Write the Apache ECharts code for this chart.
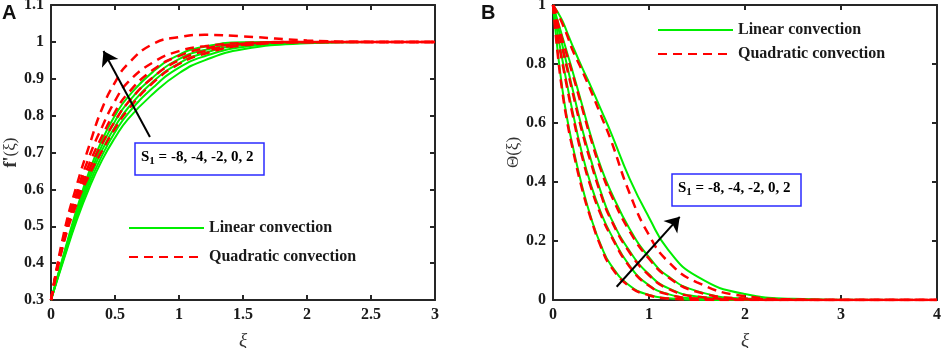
<!DOCTYPE html>
<html>
<head>
<meta charset="utf-8">
<script src="https://cdn.jsdelivr.net/npm/echarts@6/dist/echarts.min.js"></script>
<style>
  html, body { margin: 0; padding: 0; background: #fff; }
  #chart { width: 941px; height: 348px; }
</style>
</head>
<body>
<div id="chart"></div>
<script>
  // panel A: f'(xi), S1 = -8, -4, -2, 0, 2
  var xiA = [0, 0.1, 0.2, 0.3, 0.4, 0.5, 0.6, 0.8, 1.0, 1.2, 1.5, 2.0, 2.5, 3.0];
  var linA_m8 = [0.3, 0.41, 0.515, 0.605, 0.68, 0.74, 0.79, 0.86, 0.915, 0.95, 0.98, 0.996, 1.0, 1.0];
  var linA_m4 = [0.3, 0.414, 0.522, 0.616, 0.693, 0.755, 0.805, 0.877, 0.93, 0.961, 0.986, 0.998, 1.0, 1.0];
  var linA_m2 = [0.3, 0.418, 0.53, 0.627, 0.707, 0.77, 0.82, 0.893, 0.942, 0.97, 0.991, 0.999, 1.0, 1.0];
  var linA_0 = [0.3, 0.422, 0.538, 0.638, 0.72, 0.785, 0.835, 0.905, 0.953, 0.978, 0.995, 1.0, 1.0, 1.0];
  var linA_2 = [0.3, 0.425, 0.545, 0.65, 0.735, 0.8, 0.85, 0.92, 0.965, 0.987, 0.999, 1.0, 1.0, 1.0];
  var quaA_m8 = [0.3, 0.455, 0.56, 0.64, 0.705, 0.765, 0.815, 0.89, 0.94, 0.968, 0.99, 0.999, 1.0, 1.0];
  var quaA_m4 = [0.3, 0.46, 0.57, 0.655, 0.725, 0.785, 0.835, 0.905, 0.95, 0.975, 0.992, 0.999, 1.0, 1.0];
  var quaA_m2 = [0.3, 0.465, 0.58, 0.67, 0.745, 0.81, 0.86, 0.925, 0.962, 0.982, 0.995, 1.0, 1.0, 1.0];
  var quaA_0 = [0.3, 0.47, 0.59, 0.69, 0.77, 0.84, 0.89, 0.945, 0.975, 0.988, 0.997, 1.0, 1.0, 1.0];
  var quaA_2 = [0.3, 0.48, 0.61, 0.72, 0.82, 0.89, 0.94, 0.995, 1.013, 1.019, 1.015, 1.004, 1.0, 1.0];

  // panel B: Theta(xi)
  var xiB = [0, 0.05, 0.1, 0.15, 0.2, 0.3, 0.4, 0.5, 0.6, 0.8, 1.0, 1.2, 1.5, 2.0, 2.5, 3.0, 4.0];
  var linB_m8 = [1, 0.84, 0.71, 0.61, 0.53, 0.39, 0.275, 0.185, 0.12, 0.048, 0.017, 0.006, 0.001, 0, 0, 0, 0];
  var linB_m4 = [1, 0.9, 0.81, 0.725, 0.645, 0.5, 0.385, 0.295, 0.225, 0.115, 0.05, 0.02, 0.005, 0.001, 0, 0, 0];
  var linB_m2 = [1, 0.93, 0.86, 0.79, 0.72, 0.585, 0.47, 0.365, 0.28, 0.165, 0.087, 0.04, 0.012, 0.002, 0, 0, 0];
  var linB_0 = [1, 0.945, 0.89, 0.835, 0.78, 0.665, 0.55, 0.45, 0.37, 0.24, 0.145, 0.08, 0.03, 0.005, 0.001, 0, 0];
  var linB_2 = [1, 0.975, 0.945, 0.905, 0.865, 0.79, 0.72, 0.645, 0.57, 0.41, 0.28, 0.17, 0.08, 0.02, 0.004, 0.001, 0];
  var quaB_m8 = [1, 0.83, 0.7, 0.6, 0.52, 0.38, 0.27, 0.18, 0.115, 0.045, 0.016, 0.005, 0.001, 0, 0, 0, 0];
  var quaB_m4 = [1, 0.89, 0.8, 0.715, 0.635, 0.49, 0.377, 0.288, 0.22, 0.112, 0.048, 0.019, 0.005, 0.001, 0, 0, 0];
  var quaB_m2 = [1, 0.925, 0.85, 0.78, 0.71, 0.575, 0.46, 0.357, 0.275, 0.16, 0.084, 0.038, 0.011, 0.002, 0, 0, 0];
  var quaB_0 = [1, 0.94, 0.88, 0.825, 0.77, 0.655, 0.54, 0.44, 0.36, 0.232, 0.14, 0.077, 0.028, 0.005, 0.001, 0, 0];
  var quaB_2 = [1, 0.97, 0.935, 0.895, 0.85, 0.78, 0.705, 0.625, 0.545, 0.36, 0.22, 0.13, 0.06, 0.013, 0.002, 0, 0];

  var LIN = 'Linear convection';
  var QUA = 'Quadratic convection';
  var serif = 'Liberation Serif';
  var frame = '#262626';
  var green = '#00ee00';
  var red = '#ff0000';

  function pairs(xs, ys) {
    return xs.map(function (x, i) { return [x, ys[i]]; });
  }

  function curve(name, xs, ys, panel, dashed) {
    return {
      name: name,
      type: 'line',
      xAxisIndex: panel * 2,
      yAxisIndex: panel * 2,
      data: pairs(xs, ys),
      smooth: 0.5,
      symbol: 'none',
      z: dashed ? 3 : 2,
      itemStyle: { color: dashed ? red : green },
      lineStyle: dashed
        ? { color: red, width: 2.5, type: [9, 6] }
        : { color: green, width: 2 }
    };
  }

  function valueAxis(grid, pos, min, max, step, labels, name, nameGap, nameStyle) {
    return {
      type: 'value',
      gridIndex: grid,
      position: pos,
      min: min,
      max: max,
      interval: step,
      name: name || '',
      nameLocation: 'middle',
      nameGap: nameGap || 0,
      nameTextStyle: nameStyle || {},
      axisLine: { show: true, onZero: false, lineStyle: { color: frame, width: 2 } },
      axisTick: { show: true, inside: true, length: 5, lineStyle: { color: frame, width: 2 } },
      splitLine: { show: false },
      axisLabel: {
        show: labels,
        color: '#1a1a1a',
        fontFamily: serif,
        fontWeight: 'bold',
        fontSize: 16,
        margin: 7
      }
    };
  }

  var xiName = { fontFamily: serif, fontStyle: 'italic', fontSize: 19, color: '#333' };

  var chart = echarts.init(document.getElementById('chart'));

  var series = [
    curve(LIN, xiA, linA_m8, 0, false),
    curve(LIN, xiA, linA_m4, 0, false),
    curve(LIN, xiA, linA_m2, 0, false),
    curve(LIN, xiA, linA_0, 0, false),
    curve(LIN, xiA, linA_2, 0, false),
    curve(QUA, xiA, quaA_m8, 0, true),
    curve(QUA, xiA, quaA_m4, 0, true),
    curve(QUA, xiA, quaA_m2, 0, true),
    curve(QUA, xiA, quaA_0, 0, true),
    curve(QUA, xiA, quaA_2, 0, true),
    curve(LIN, xiB, linB_m8, 1, false),
    curve(LIN, xiB, linB_m4, 1, false),
    curve(LIN, xiB, linB_m2, 1, false),
    curve(LIN, xiB, linB_0, 1, false),
    curve(LIN, xiB, linB_2, 1, false),
    curve(QUA, xiB, quaB_m8, 1, true),
    curve(QUA, xiB, quaB_m4, 1, true),
    curve(QUA, xiB, quaB_m2, 1, true),
    curve(QUA, xiB, quaB_0, 1, true),
    curve(QUA, xiB, quaB_2, 1, true)
  ];

  // arrows showing the direction of increasing S1
  function arrow(from, to) {
    return {
      silent: true,
      symbol: ['none', 'arrow'],
      symbolSize: 14,
      label: { show: false },
      emphasis: { disabled: true },
      lineStyle: { color: '#000', width: 2, type: 'solid', opacity: 1 },
      itemStyle: { color: '#000' },
      data: [[{ coord: from }, { coord: to }]]
    };
  }
  series[9].markLine = arrow([0.773, 0.742], [0.41, 0.975]);
  series[19].markLine = arrow([0.663, 0.045], [1.32, 0.282]);

  var legendText = { fontFamily: serif, fontWeight: 'bold', fontSize: 16, color: '#1a1a1a' };
  var boxRich = {
    s: { fontFamily: serif, fontWeight: 'bold', fontSize: 15, color: '#0000ff' },
    sub: { fontFamily: serif, fontWeight: 'bold', fontSize: 11, color: '#0000ff', padding: [9, 0, 0, 0] }
  };

  function legend(left, top, gap) {
    return {
      data: [LIN, QUA],
      orient: 'vertical',
      left: left,
      top: top,
      padding: 0,
      itemWidth: 75,
      itemHeight: 14,
      itemGap: gap,
      selectedMode: false,
      itemStyle: { opacity: 0 },
      textStyle: legendText
    };
  }

  chart.setOption({
    animation: false,
    backgroundColor: '#fff',
    grid: [
      { left: 51, top: 5, width: 384, height: 295, containLabel: false, outerBoundsMode: 'none' },
      { left: 553, top: 5, width: 384, height: 295, containLabel: false, outerBoundsMode: 'none' }
    ],
    xAxis: [
      valueAxis(0, 'bottom', 0, 3, 0.5, true, 'ξ', 31, xiName),
      valueAxis(0, 'top', 0, 3, 0.5, false),
      valueAxis(1, 'bottom', 0, 4, 1, true, 'ξ', 31, xiName),
      valueAxis(1, 'top', 0, 4, 1, false)
    ],
    yAxis: [
      valueAxis(0, 'left', 0.3, 1.1, 0.1, true, "{f|f'}{n|(ξ)}", 31, {
        rich: {
          f: { fontFamily: serif, fontWeight: 'bold', fontSize: 18, color: '#333' },
          n: { fontFamily: serif, fontSize: 17, color: '#333' }
        }
      }),
      valueAxis(0, 'right', 0.3, 1.1, 0.1, false),
      valueAxis(1, 'left', 0, 1, 0.2, true, 'Θ(ξ)', 31, { fontFamily: serif, fontSize: 17, color: '#333' }),
      valueAxis(1, 'right', 0, 1, 0.2, false)
    ],
    legend: [legend(128, 220, 13), legend(657, 22, 8)],
    graphic: [
      { type: 'text', left: 2, top: 3, style: { text: 'A', font: 'bold 20px "Liberation Sans"', fill: '#111' } },
      { type: 'text', left: 481, top: 3, style: { text: 'B', font: 'bold 20px "Liberation Sans"', fill: '#111' } },
      {
        type: 'rect', shape: { x: 135, y: 143, width: 129, height: 32 },
        style: { fill: '#fff', stroke: '#2b2bff', lineWidth: 1.5 }, z: 10
      },
      {
        type: 'text', x: 141, y: 147, z: 11,
        style: { text: '{s|S}{sub|1}{s| = -8, -4, -2, 0, 2}', rich: boxRich }
      },
      {
        type: 'rect', shape: { x: 672, y: 174, width: 129, height: 32 },
        style: { fill: '#fff', stroke: '#2b2bff', lineWidth: 1.5 }, z: 10
      },
      {
        type: 'text', x: 678, y: 178, z: 11,
        style: { text: '{s|S}{sub|1}{s| = -8, -4, -2, 0, 2}', rich: boxRich }
      }
    ],
    series: series
  });
</script>
</body>
</html>
